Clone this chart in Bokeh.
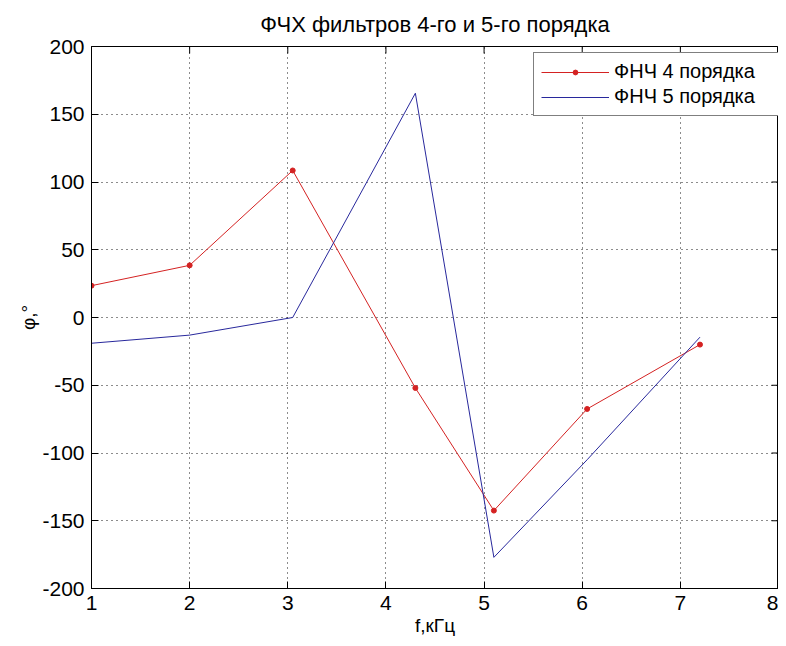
import math
from bokeh.plotting import figure
from bokeh.models import FixedTicker, Range1d, Legend, LegendItem, PrintfTickFormatter
from bokeh.embed import file_html
from bokeh.resources import INLINE

# Data
freq = [1.0, 2.0, 3.05, 4.3, 5.1, 6.05, 7.2]
phase4 = [23.5, 38.5, 108.5, -52.0, -142.5, -67.5, -20.0]
phase5 = [-19.0, -13.0, 0.0, 165.5, -177.0, -105.0, -14.5]
x_ticks = [1, 2, 3, 4, 5, 6, 7, 8]
y_ticks = [-200, -150, -100, -50, 0, 50, 100, 150, 200]
title_text = "ФЧХ фильтров 4-го и 5-го порядка"
x_label = "f,кГц"
y_label = "φ,°"
legend_labels = ["ФНЧ 4 порядка", "ФНЧ 5 порядка"]

FONT = "Liberation Sans"
RED = "#d42222"
BLUE = "#28289c"

x_min, x_max = x_ticks[0], x_ticks[-1]
y_min, y_max = y_ticks[0], y_ticks[-1]

p = figure(width=778, height=638, output_backend="svg", toolbar_location=None,
           x_range=Range1d(x_min, x_max), y_range=Range1d(y_min, y_max),
           min_border_left=91, min_border_right=0, min_border_top=44, min_border_bottom=0)
p.background_fill_color = "white"
p.border_fill_color = "white"
p.outline_line_color = "black"
p.outline_line_width = 1

p.title.text = title_text
p.title.align = "center"
p.title.text_font = FONT
p.title.text_font_size = "22px"
p.title.text_font_style = "normal"
p.title.text_color = "black"
p.title.standoff = 19

for ax in (p.xaxis[0], p.yaxis[0]):
    ax.major_tick_in = 7
    ax.major_tick_out = 0
    ax.minor_tick_line_color = None
    ax.axis_line_color = "black"
    ax.major_tick_line_color = "black"
    ax.major_label_text_font = FONT
    ax.major_label_text_font_size = "21px"
    ax.major_label_text_color = "black"
    ax.axis_label_text_font = FONT
    ax.axis_label_text_font_size = "19px"
    ax.axis_label_text_font_style = "normal"
    ax.axis_label_text_color = "black"
    ax.formatter = PrintfTickFormatter(format="%d")

p.xaxis[0].ticker = FixedTicker(ticks=x_ticks)
p.yaxis[0].ticker = FixedTicker(ticks=y_ticks)
p.xaxis[0].axis_label = x_label
p.yaxis[0].axis_label = y_label
p.xaxis[0].major_label_standoff = 7
p.yaxis[0].major_label_standoff = 7
p.xaxis[0].axis_label_standoff = 2
p.yaxis[0].axis_label_standoff = 0

p.xgrid.ticker = FixedTicker(ticks=x_ticks)
p.ygrid.ticker = FixedTicker(ticks=y_ticks)
for g in (p.xgrid[0], p.ygrid[0]):
    g.grid_line_color = "black"
    g.grid_line_dash = "1 4"
    g.grid_line_width = 1
    g.grid_line_alpha = 0.9

# inward tick marks on the right and top edges of the box (clipped to the frame)
p.scatter([x_max] * len(y_ticks), y_ticks, marker="dash", size=14, line_color="black", line_width=1)
p.scatter(x_ticks, [y_max] * len(x_ticks), marker="dash", size=14, angle=math.pi / 2,
          line_color="black", line_width=1)

r4 = p.line(freq, phase4, line_color=RED, line_width=1)
r4m = p.scatter(freq, phase4, size=5, color=RED)
r5 = p.line(freq, phase5, line_color=BLUE, line_width=1)

legend = Legend(items=[LegendItem(label=legend_labels[0], renderers=[r4, r4m]),
                       LegendItem(label=legend_labels[1], renderers=[r5])],
                location=(442, 472))
legend.label_text_font = FONT
legend.label_text_font_size = "20px"
legend.label_text_color = "black"
legend.glyph_width = 68
legend.glyph_height = 12
legend.label_standoff = 5
legend.label_width = 158
legend.spacing = 2
legend.padding = 7
legend.margin = 0
legend.border_line_color = "black"
legend.border_line_width = 1
legend.background_fill_color = "white"
legend.background_fill_alpha = 1
p.add_layout(legend, "center")

open("out.html", "w").write(file_html(p, INLINE))
